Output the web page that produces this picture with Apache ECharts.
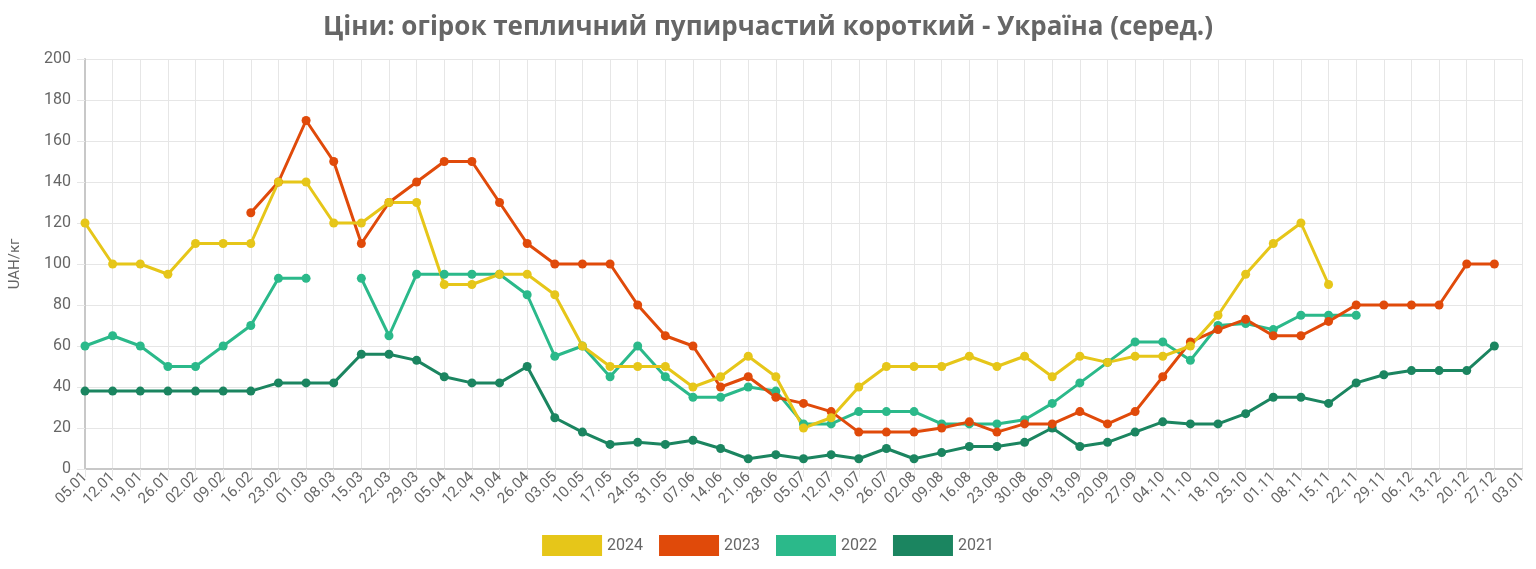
<!DOCTYPE html>
<html lang="uk">
<head>
	<meta charset="UTF-8">
	<title>Ціни: огірок тепличний</title>
	<script src="https://cdn.jsdelivr.net/npm/echarts@6/dist/echarts.min.js"></script>
	<style>
		html, body { margin: 0; padding: 0; background: #fff; }
		#main { width: 1536px; height: 569px; }
	</style>
</head>
<body>
<div id="main"></div>
<script type="text/javascript">
// тижні (мітки осі X)
var weeks = ['05.01','12.01','19.01','26.01','02.02','09.02','16.02','23.02','01.03','08.03',
	'15.03','22.03','29.03','05.04','12.04','19.04','26.04','03.05','10.05','17.05',
	'24.05','31.05','07.06','14.06','21.06','28.06','05.07','12.07','19.07','26.07',
	'02.08','09.08','16.08','23.08','30.08','06.09','13.09','20.09','27.09','04.10',
	'11.10','18.10','25.10','01.11','08.11','15.11','22.11','29.11','06.12','13.12',
	'20.12','27.12','03.01'];

var y2024 = [120,100,100,95,110,110,110,140,140,120,
	120,130,130,90,90,95,95,85,60,50,
	50,50,40,45,55,45,20,25,40,50,
	50,50,55,50,55,45,55,52,55,55,
	60,75,95,110,120,90,null,null,null,null,
	null,null,null];

var y2023 = [null,null,null,null,null,null,125,140,170,150,
	110,130,140,150,150,130,110,100,100,100,
	80,65,60,40,45,35,32,28,18,18,
	18,20,23,18,22,22,28,22,28,45,
	62,68,73,65,65,72,80,80,80,80,
	100,100,null];

var y2022 = [60,65,60,50,50,60,70,93,93,null,
	93,65,95,95,95,95,85,55,60,45,
	60,45,35,35,40,38,22,22,28,28,
	28,22,22,22,24,32,42,52,62,62,
	53,70,71,68,75,75,75,null,null,null,
	null,null,null];

var y2021 = [38,38,38,38,38,38,38,42,42,42,
	56,56,53,45,42,42,50,25,18,12,
	13,12,14,10,5,7,5,7,5,10,
	5,8,11,11,13,20,11,13,18,23,
	22,22,27,35,35,32,42,46,48,48,
	48,60,null];

var yTicks = [0, 200, 20]; // min, max, крок

var colors = {
	'2024': '#e6c619',
	'2023': '#e04a0a',
	'2022': '#2bb98a',
	'2021': '#1b8560'
};

function mkSeries(name, data) {
	return {
		name: name,
		type: 'line',
		data: data,
		connectNulls: false,
		symbol: 'circle',
		symbolSize: 9,
		showSymbol: true,
		lineStyle: { width: 3, color: colors[name] },
		itemStyle: { color: colors[name] },
		emphasis: { disabled: true }
	};
}

var myChart = echarts.init(document.getElementById('main'));
myChart.setOption({
	animation: false,
	textStyle: { fontFamily: 'Roboto' },
	title: {
		text: 'Ціни: огірок тепличний пупирчастий короткий - Україна (серед.)',
		left: 'center',
		top: 10,
		textStyle: { fontFamily: 'Open Sans', fontSize: 26, fontWeight: 'bold', color: '#666' }
	},
	legend: {
		data: ['2024', '2023', '2022', '2021'],
		bottom: 8,
		left: 'center',
		icon: 'rect',
		itemWidth: 60,
		itemHeight: 21,
		itemGap: 16,
		textStyle: { fontSize: 16, color: '#666' }
	},
	grid: { left: 83, right: 14, top: 59, bottom: 100 },
	xAxis: {
		type: 'category',
		data: weeks,
		boundaryGap: false,
		axisLine: { lineStyle: { color: '#c8c8c8', width: 2 } },
		axisTick: { show: true, length: 8, lineStyle: { color: '#e6e6e6' } },
		axisLabel: { interval: 0, rotate: 45, fontSize: 15, color: '#666', margin: 6 },
		splitLine: { show: true, interval: 0, lineStyle: { color: '#e6e6e6' } }
	},
	yAxis: {
		type: 'value',
		min: yTicks[0],
		max: yTicks[1],
		interval: yTicks[2],
		name: 'UAH/кг',
		nameLocation: 'middle',
		nameRotate: 90,
		nameGap: 62,
		nameTextStyle: { fontSize: 15, color: '#666' },
		axisLine: { show: true, lineStyle: { color: '#c8c8c8', width: 2 } },
		axisTick: { show: true, length: 8, lineStyle: { color: '#e6e6e6' } },
		axisLabel: { fontSize: 16, color: '#666', margin: 14 },
		splitLine: { show: true, lineStyle: { color: '#e6e6e6' } }
	},
	series: [
		mkSeries('2021', y2021),
		mkSeries('2022', y2022),
		mkSeries('2023', y2023),
		mkSeries('2024', y2024)
	]
});
</script>
</body>
</html>
